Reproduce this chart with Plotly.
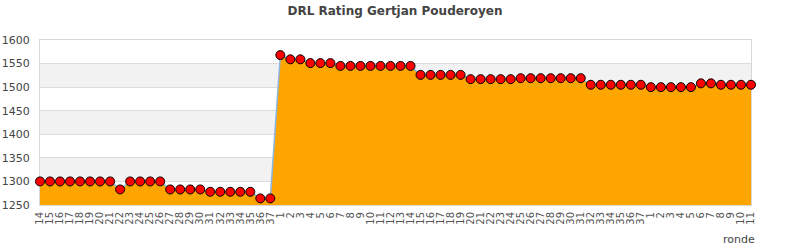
import plotly.graph_objects as go

title = "DRL Rating Gertjan Pouderoyen"
rounds = [str(i) for i in range(14, 38)] + [str(i) for i in range(1, 38)] + [str(i) for i in range(1, 12)]
ratings = (
    [1300] * 8 + [1283] + [1300] * 4 + [1283] * 4 + [1278] * 5 + [1264] * 2
    + [1568, 1559, 1559, 1551, 1551, 1551] + [1545] * 8 + [1526] * 5
    + [1517] * 5 + [1519] * 7 + [1505] * 6 + [1500] * 5 + [1508] * 2 + [1505] * 4
)
y_ticks = [1250, 1300, 1350, 1400, 1450, 1500, 1550, 1600]
bands = [(1300, 1350), (1400, 1450), (1500, 1550)]

x = list(range(len(rounds)))

fig = go.Figure()
fig.add_trace(go.Scatter(
    x=x, y=ratings, mode="lines+markers", fill="tozeroy",
    fillcolor="#FFA500",
    line=dict(color="#8ab6e0", width=1.5),
    marker=dict(symbol="circle", size=9, color="#ff0000", line=dict(color="#000000", width=1)),
    cliponaxis=False, showlegend=False,
))

shapes = []
for lo, hi in bands:
    shapes.append(dict(type="rect", xref="paper", yref="y", x0=0, x1=1, y0=lo, y1=hi,
                       fillcolor="#f2f2f2", line=dict(width=0), layer="below"))

fig.update_layout(
    width=790, height=250,
    margin=dict(l=40, r=39, t=40, b=45),
    paper_bgcolor="white", plot_bgcolor="white",
    title=dict(text="<b>" + title + "</b>", x=0.5, xanchor="center", y=0.955, yanchor="middle",
               font=dict(family="DejaVu Sans", size=12, color="#444444")),
    shapes=shapes,
    xaxis=dict(
        range=[0, len(rounds) - 1], tickmode="array", tickvals=x, ticktext=rounds,
        tickangle=-90, tickfont=dict(family="DejaVu Sans", size=10, color="#555555"),
        showgrid=False, zeroline=False, showline=True, linecolor="#d8d8d8", mirror=True,
        ticks="", ticklabelstandoff=2, automargin=False,
    ),
    yaxis=dict(
        range=[1250, 1600], tickmode="array", tickvals=y_ticks,
        tickfont=dict(family="DejaVu Sans", size=11, color="#444444"),
        showgrid=True, gridcolor="#dddddd", zeroline=False,
        showline=True, linecolor="#d8d8d8", mirror=True, ticks="", layer="below traces",
        ticklabelstandoff=7, automargin=False,
    ),
    annotations=[dict(text="ronde", xref="paper", yref="paper", x=1.008, y=-0.21,
                      xanchor="right", yanchor="middle", showarrow=False,
                      font=dict(family="DejaVu Sans", size=11, color="#444444"))],
)

fig.write_html("out.html")
